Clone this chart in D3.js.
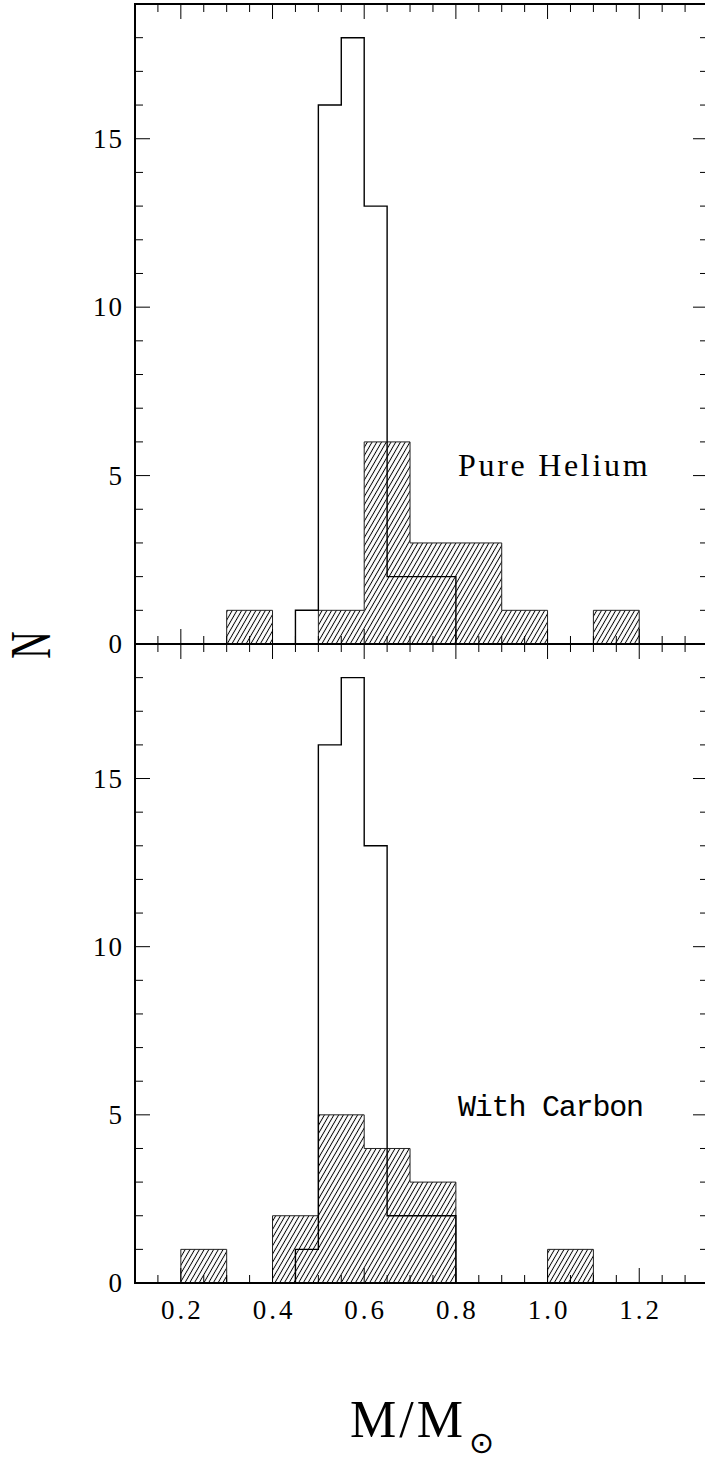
<!DOCTYPE html>
<html><head><meta charset="utf-8">
<script src="https://cdn.jsdelivr.net/npm/d3@7"></script>
<style>html,body{margin:0;padding:0;background:#fff;} svg{display:block;}</style>
</head><body>
<script>
// ---- data ----
const openBinEdges = [0.45, 0.50, 0.55, 0.60, 0.65, 0.70, 0.75, 0.80];
const heliumOpenCounts = [1, 16, 18, 13, 2, 2, 2];
const carbonOpenCounts = [1, 16, 18, 13, 2, 2, 2];
const hatchBinEdges = [0.2, 0.3, 0.4, 0.5, 0.6, 0.7, 0.8, 0.9, 1.0, 1.1, 1.2];
const heliumHatchedCounts = [0, 1, 0, 1, 6, 3, 3, 1, 0, 1];
const carbonHatchedCounts = [1, 0, 2, 5, 4, 3, 0, 0, 1, 0];
const panelNames = ["Pure Helium", "With Carbon"];
const xTickValues = [0.2, 0.4, 0.6, 0.8, 1.0, 1.2];
const xTickLabels = ["0.2", "0.4", "0.6", "0.8", "1.0", "1.2"];
const yTickValues = [0, 5, 10, 15];
const yTickLabels = ["0", "5", "10", "15"];
const xTitle = "M/M";
const xTitleSub = "\u2299";
const yTitle = "N";

// ---- layout ----
const W = 705, H = 1460;
const svg = d3.select("body").append("svg").attr("width", W).attr("height", H);
const x = d3.scaleLinear().domain([0.1, 1.35]).range([135, 708]);
const panels = [
  { name: panelNames[0], open: heliumOpenCounts, hatched: heliumHatchedCounts,
    y: d3.scaleLinear().domain([0, 19]).range([644, 4]), labelY: 476,
    font: "'Liberation Serif', serif", size: 32, ls: 2.7, showX: false },
  { name: panelNames[1], open: carbonOpenCounts, hatched: carbonHatchedCounts,
    y: d3.scaleLinear().domain([0, 19]).range([1283, 644]), labelY: 1116,
    font: "'Liberation Mono', monospace", size: 30, ls: -1.2, showX: true }
];

const defs = svg.append("defs");
const pat = defs.append("pattern").attr("id", "hatch")
  .attr("patternUnits", "userSpaceOnUse")
  .attr("width", 4.1).attr("height", 10)
  .attr("patternTransform", "rotate(30)");
pat.append("line").attr("x1", 2.05).attr("y1", 0).attr("x2", 2.05).attr("y2", 10)
  .attr("stroke", "#000").attr("stroke-width", 0.95);

function stepRuns(edges, counts) {
  const runs = []; let cur = null;
  counts.forEach((c, i) => {
    if (c > 0) {
      if (!cur) { cur = [[edges[i], 0]]; runs.push(cur); }
      cur.push([edges[i], c], [edges[i + 1], c]);
    } else if (cur) { cur.push([edges[i], 0]); cur = null; }
  });
  if (cur) cur.push([edges[counts.length], 0]);
  return runs;
}

const xMinor = d3.range(0.15, 1.31, 0.05);
const yMinor = d3.range(1, 19, 1);
const tickMaj = 15, tickMin = 8;

panels.forEach(p => {
  const y = p.y;
  const g = svg.append("g");
  const line = d3.line().x(d => x(d[0])).y(d => y(d[1]));

  // hatched histogram
  stepRuns(hatchBinEdges, p.hatched).forEach(run => {
    g.append("path").attr("d", line(run))
      .attr("fill", "url(#hatch)").attr("stroke", "#222").attr("stroke-width", 1);
  });
  // open histogram
  stepRuns(openBinEdges, p.open).forEach(run => {
    g.append("path").attr("d", line(run))
      .attr("fill", "none").attr("stroke", "#000").attr("stroke-width", 1.4);
  });

  const [y0, y1] = y.range(); // bottom, top
  const [xl, xr] = x.range();
  // ticks
  const tk = g.append("g").attr("stroke", "#000").attr("stroke-width", 1);
  xMinor.forEach(v => {
    const isMaj = xTickValues.some(t => Math.abs(t - v) < 1e-6);
    const len = isMaj ? tickMaj : tickMin;
    tk.append("line").attr("x1", x(v)).attr("x2", x(v)).attr("y1", y0).attr("y2", y0 - len);
    tk.append("line").attr("x1", x(v)).attr("x2", x(v)).attr("y1", y1).attr("y2", y1 + len);
  });
  yMinor.forEach(v => {
    const isMaj = yTickValues.includes(v);
    const len = isMaj ? tickMaj : tickMin;
    tk.append("line").attr("x1", xl).attr("x2", xl + len).attr("y1", y(v)).attr("y2", y(v));
    tk.append("line").attr("x1", xr).attr("x2", xr - len).attr("y1", y(v)).attr("y2", y(v));
  });
  // frame
  g.append("rect").attr("x", xl).attr("y", y1).attr("width", xr - xl).attr("height", y0 - y1)
    .attr("fill", "none").attr("stroke", "#000").attr("stroke-width", 2);

  // y tick labels
  const yls = 2;
  yTickValues.forEach((v, i) => {
    g.append("text").attr("x", 122 + yls).attr("y", y(v) + 9)
      .attr("text-anchor", "end").attr("font-family", "'Liberation Serif', serif")
      .attr("font-size", 27).attr("letter-spacing", yls).attr("fill", "#000")
      .text(yTickLabels[i]);
  });
  // x tick labels
  if (p.showX) {
    const xls = 3;
    xTickValues.forEach((v, i) => {
      g.append("text").attr("x", x(v) + xls / 2).attr("y", 1319)
        .attr("text-anchor", "middle").attr("font-family", "'Liberation Serif', serif")
        .attr("font-size", 27).attr("letter-spacing", xls).attr("fill", "#000")
        .text(xTickLabels[i]);
    });
  }
  // panel label
  g.append("text").attr("x", 458).attr("y", p.labelY)
    .attr("font-family", p.font).attr("font-size", p.size)
    .attr("letter-spacing", p.ls).attr("fill", "#000").text(p.name);
});

// axis titles
const xt = svg.append("text").attr("x", 350).attr("y", 1437)
  .attr("font-family", "'Liberation Serif', serif").attr("font-size", 52)
  .attr("letter-spacing", 3).attr("fill", "#000");
xt.append("tspan").text(xTitle);
xt.append("tspan").attr("x", 469).attr("y", 1453).attr("letter-spacing", 0)
  .attr("font-family", "'DejaVu Sans', sans-serif").attr("font-size", 30).text(xTitleSub);

svg.append("text").attr("transform", "translate(50,645) rotate(-90) scale(0.68,1)")
  .attr("text-anchor", "middle").attr("font-family", "'Liberation Serif', serif")
  .attr("font-size", 56).attr("fill", "#000").text(yTitle);
</script>
</body></html>
